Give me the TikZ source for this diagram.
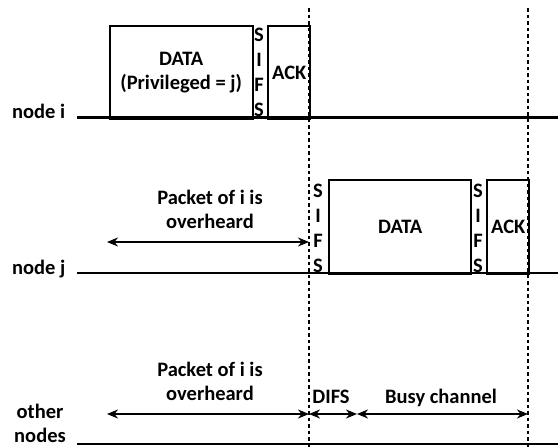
\documentclass[tikz,border=0pt]{standalone}
\usepackage{fontspec}
\setmainfont{Carlito}
\usetikzlibrary{arrows.meta}
\begin{document}
\begin{tikzpicture}[x=1pt,y=-1pt,
  lbl/.style={font=\fontsize{20.5}{24}\selectfont\bfseries, inner sep=0pt, align=center},
  sifs/.style={font=\fontsize{20.5}{25}\selectfont\bfseries, inner sep=0pt, align=center},
  pbox/.style={draw, line width=2.4pt, anchor=north west, inner sep=0pt, lbl},
  tl/.style={line width=2.4pt},
  vline/.style={line width=2.4pt, dash pattern=on 3.5pt off 3pt},
  dbl/.style={line width=2.2pt, {Stealth[length=11pt,width=9pt]}-{Stealth[length=11pt,width=9pt]}},
]
\useasboundingbox (0,0) rectangle (558,447);

% timelines
\coordinate (iL) at (77,117.5); \coordinate (iR) at (558,117.5);
\coordinate (jL) at (77,273);   \coordinate (jR) at (558,273);
\coordinate (oL) at (77,444);   \coordinate (oR) at (558,444);
\draw[tl] (iL) -- (iR);
\draw[tl] (jL) -- (jR);
\draw[tl] (oL) -- (oR);

% node labels
\node[lbl, anchor=base west] (ni) at (12,118) {node i};
\node[lbl, anchor=base west] (nj) at (12,274) {node j};
\node[lbl, anchor=south] (no) at (40,443) {other\\nodes};

% node i frames
\node[pbox, minimum width=143pt, minimum height=92.5pt] (dataI) at (108.5,25) {DATA\\(Privileged = j)};
\node[sifs] (sifsI) at (259,72) {S\\I\\F\\S};
\node[pbox, minimum width=42pt, minimum height=92.5pt] (ackI) at (267,25) {ACK};

% node j frames
\node[sifs] (sifsJ1) at (318,228) {S\\I\\F\\S};
\node[pbox, minimum width=142pt, minimum height=94pt] (dataJ) at (328,179) {DATA};
\node[sifs] (sifsJ2) at (478,228) {S\\I\\F\\S};
\node[pbox, minimum width=42pt, minimum height=94pt] (ackJ) at (486,179) {ACK};

% vertical dashed lines
\coordinate (d1t) at (309,8); \coordinate (d1b) at (309,447);
\coordinate (d2t) at (528,8); \coordinate (d2b) at (528,447);
\draw[vline] (d1t) -- (d1b);
\draw[vline] (d2t) -- (d2b);

% overheard arrows
\coordinate (aj1) at (107,242); \coordinate (aj2) at (309,242);
\draw[dbl] (aj1) -- (aj2);
\node[lbl, anchor=south] (pj) at (210,228.5) {Packet of i is\\overheard};

\coordinate (ao1) at (107,414); \coordinate (ao2) at (309,414);
\coordinate (ao3) at (357,414); \coordinate (ao4) at (528,414);
\draw[dbl] (ao1) -- (ao2);
\draw[dbl] (ao2) -- (ao3);
\draw[dbl] (ao3) -- (ao4);
\node[lbl, anchor=south] (po) at (210,400.5) {Packet of i is\\overheard};
\node[lbl, anchor=base] (difs) at (331,403) {DIFS};
\node[lbl, anchor=base] (busy) at (441,403) {Busy channel};
\end{tikzpicture}
\end{document}
